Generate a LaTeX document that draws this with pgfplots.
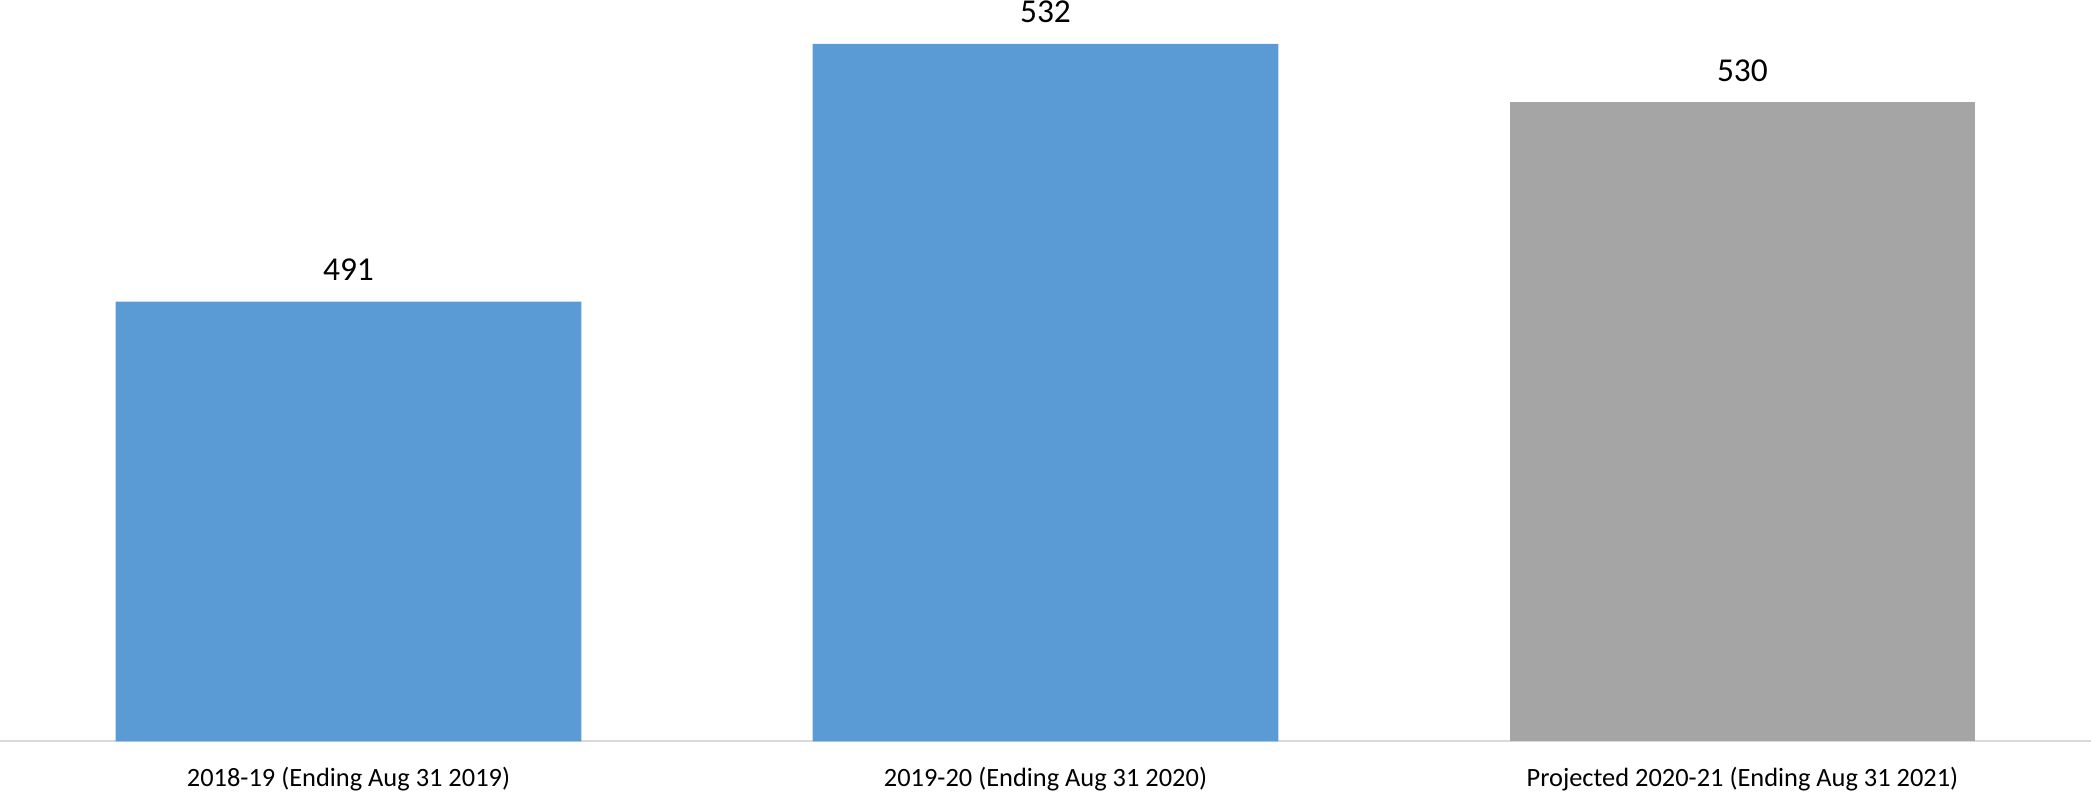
\documentclass[border=0pt]{standalone}
\usepackage{pgfplots}
\pgfplotsset{compat=1.18}
\usepackage{fontspec}
\setmainfont{Carlito}
\definecolor{barblue}{HTML}{5B9BD5}
\definecolor{bargray}{HTML}{A5A5A5}
\definecolor{axgray}{HTML}{D9D9D9}
\begin{document}
\begin{tikzpicture}
\begin{axis}[
  at={(0,0)}, anchor=south west,
  scale only axis,
  width=1045.5bp, height=370.75bp,
  xmin=-0.5, xmax=2.5,
  ymin=421.03, ymax=539.0,
  ybar, bar width=0.668, bar shift=0pt,
  axis y line=none,
  axis x line*=bottom,
  x axis line style={-, draw=axgray, line width=1bp},
  xtick={0,1,2},
  xticklabels={2018-19 (Ending Aug 31 2019), 2019-20 (Ending Aug 31 2020), Projected 2020-21 (Ending Aug 31 2021)},
  xtick style={draw=none},
  major tick length=0pt,
  xticklabel shift=0pt,
  xticklabel style={anchor=base, yshift=-22.4bp, inner sep=0pt, font=\fontsize{13.2bp}{15bp}\selectfont, text=black},
  point meta=explicit symbolic,
  nodes near coords,
  every node near coord/.append style={anchor=base, yshift=10.5bp, inner sep=0pt, font=\fontsize{16.7bp}{18bp}\selectfont, text=black},
]
\addplot[fill=barblue, draw=none] coordinates {(0,491) [491] (1,532) [532]};
\addplot[fill=bargray, draw=none] coordinates {(2,522.75) [530]};
\end{axis}
\pgfresetboundingbox
\useasboundingbox (0,-25.75bp) rectangle (1045.5bp,370.75bp);
\end{tikzpicture}
\end{document}
